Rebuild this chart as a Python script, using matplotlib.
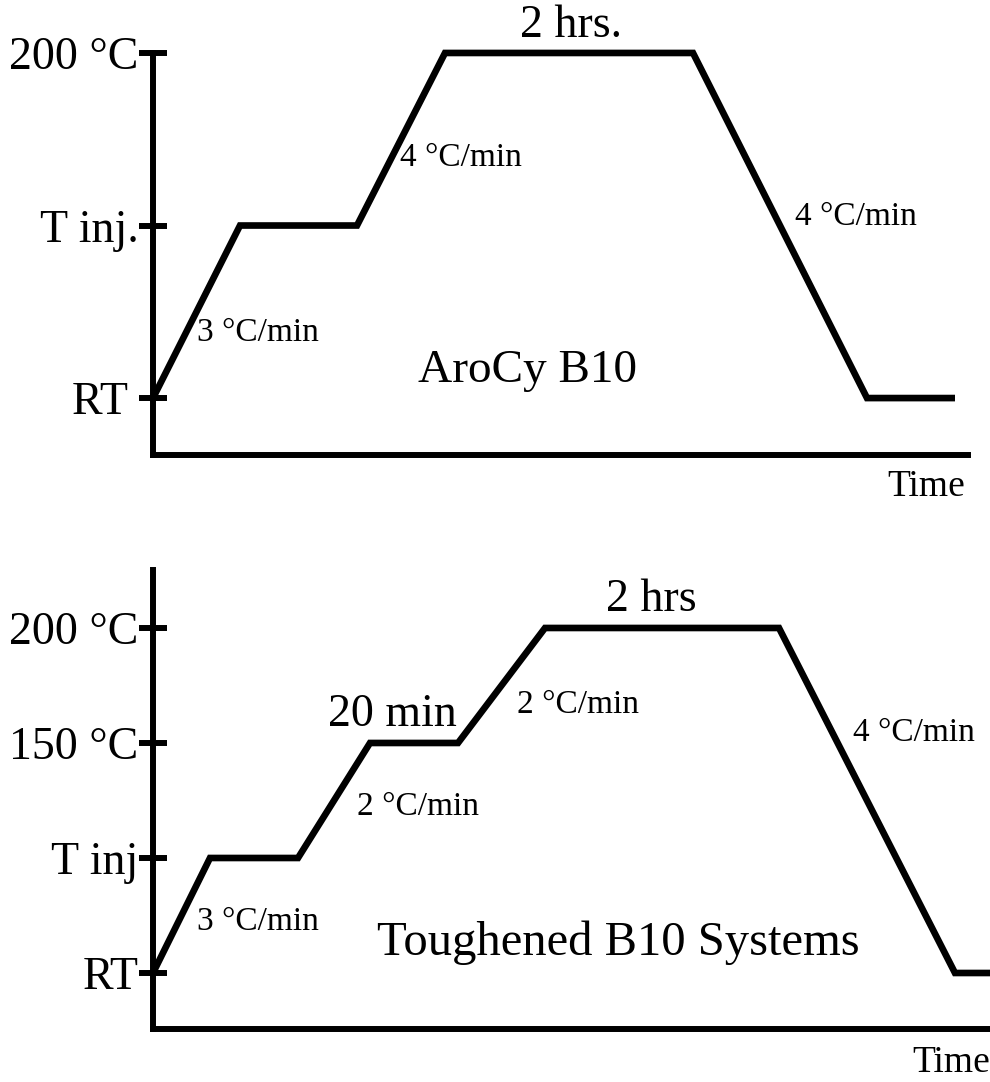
import matplotlib.pyplot as plt

plt.rcParams["font.family"] = ["Liberation Serif", "DejaVu Serif"]

# top panel: AroCy B10 cure cycle (time in arbitrary units, level = tick index)
top_time = [0, 87, 204, 292, 540, 714, 802]
top_level = [0, 1, 1, 2, 2, 0, 0]
top_ticks = [0, 1, 2]
top_tick_labels = ["RT ", "T inj.", "200 °C"]

# bottom panel: toughened B10 systems
bot_time = [0, 57, 145, 217, 305, 392, 626, 802, 837]
bot_level = [0, 1, 1, 2, 2, 3, 3, 0, 0]
bot_ticks = [0, 1, 2, 3]
bot_tick_labels = ["RT", "T inj", "150 °C", "200 °C"]

# annotations: (text, time, level, size, ha)
top_notes = [
    ("2 hrs.", 418, 2.16, 33, "center"),
    ("4 °C/min", 247, 1.39, 24, "left"),
    ("3 °C/min", 44, 0.38, 24, "left"),
    ("4 °C/min", 642, 1.05, 24, "left"),
    ("AroCy B10", 374, 0.157, 34, "center"),
    ("Time", 812, -0.516, 27, "right"),
]
bot_notes = [
    ("2 hrs", 498, 3.243, 33, "center"),
    ("20 min", 175, 2.243, 33, "left"),
    ("2 °C/min", 364, 2.33, 24, "left"),
    ("2 °C/min", 204, 1.443, 24, "left"),
    ("4 °C/min", 700, 2.087, 24, "left"),
    ("3 °C/min", 44, 0.443, 24, "left"),
    ("Toughened B10 Systems", 224, 0.261, 35, "left"),
    ("Time", 759, -0.783, 27, "left"),
]

W, H = 990, 1082
fig = plt.figure(figsize=(W / 100, H / 100), dpi=100)


def panel(rect, time, level, ticks, labels, notes, ylim, xlim, vbounds, hbound):
    ax = fig.add_axes(rect)
    ax.plot(time, level, color="black", lw=4.8, solid_joinstyle="miter",
            solid_capstyle="butt", clip_on=False)
    ax.set_xlim(*xlim)
    ax.set_ylim(*ylim)
    for side in ("top", "right"):
        ax.spines[side].set_visible(False)
    for side in ("left", "bottom"):
        ax.spines[side].set_linewidth(4.3)
        ax.spines[side].set_capstyle("projecting")
    ax.spines["left"].set_bounds(*vbounds)
    ax.spines["bottom"].set_bounds(0, hbound)
    ax.set_xticks([])
    ax.set_yticks(ticks, labels)
    ax.tick_params(axis="y", direction="inout", length=20, width=4.3,
                   pad=0.5, labelsize=33)
    ax.patch.set_alpha(0)
    for text, t, lv, size, ha in notes:
        ax.text(t, lv, text, fontsize=size, ha=ha, va="center", clip_on=False)
    return ax


panel([153 / W, (H - 455) / H, 837 / W, 455 / H], top_time, top_level,
      top_ticks, top_tick_labels, top_notes,
      ylim=(-0.330, 2.307), xlim=(0, 837), vbounds=(-0.330, 2), hbound=815)
panel([153 / W, (H - 1029) / H, 837 / W, 489 / H], bot_time, bot_level,
      bot_ticks, bot_tick_labels, bot_notes,
      ylim=(-0.487, 3.765), xlim=(0, 837), vbounds=(-0.487, 3.504), hbound=837)

fig.savefig("out.png", dpi=100, facecolor="white")
